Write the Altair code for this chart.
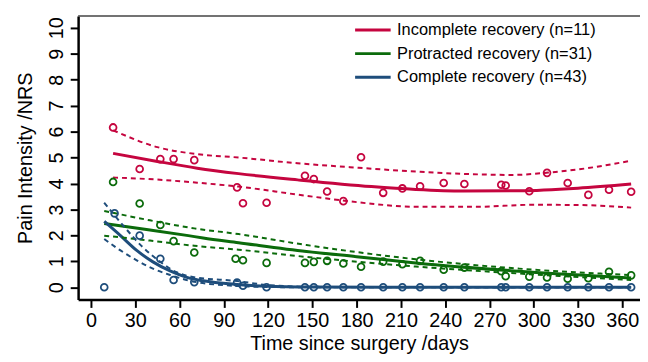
import altair as alt
import pandas as pd

names = ["Incomplete recovery (n=11)", "Protracted recovery (n=31)", "Complete recovery (n=43)"]
colors = ["#c5053f", "#0b6b0b", "#1e4d7b"]

# observed points
red_days = [15, 33, 47, 56, 70, 99, 103, 119, 145, 151, 160, 171, 183, 198, 211, 223, 239, 253, 278, 281, 297, 309, 323, 337, 351, 366]
red_vals = [6.16, 4.56, 4.94, 4.94, 4.9, 3.85, 3.24, 3.26, 4.3, 4.17, 3.69, 3.32, 5.01, 3.64, 3.81, 3.89, 4.02, 3.98, 3.95, 3.92, 3.7, 4.41, 4.02, 3.56, 3.76, 3.68]
green_days = [15, 33, 47, 56, 70, 98, 103, 119, 145, 151, 160, 171, 183, 198, 211, 223, 239, 253, 278, 281, 297, 309, 323, 337, 351, 366]
green_vals = [4.06, 3.23, 2.4, 1.78, 1.34, 1.1, 1.04, 0.94, 0.94, 0.98, 1.02, 0.92, 0.79, 0.99, 0.89, 1.02, 0.68, 0.76, 0.62, 0.43, 0.41, 0.38, 0.33, 0.35, 0.6, 0.46]
blue_days = [9, 16, 33, 47, 56, 70, 99, 103, 119, 145, 151, 160, 171, 183, 198, 211, 223, 239, 253, 278, 281, 297, 309, 323, 337, 351, 366]
blue_vals = [0, 2.85, 1.99, 1.1, 0.28, 0.2, 0.18, 0.06, 0, 0, 0, 0, 0, 0, 0, 0, 0, 0, 0, 0, 0, 0, 0, 0, 0, 0, 0]

# fitted curves and confidence bands
red_fit_days = [15, 45, 72, 100, 140, 190, 220, 252, 290, 330, 366]
red_fit = [5.16, 4.85, 4.59, 4.38, 4.14, 3.88, 3.77, 3.71, 3.72, 3.82, 3.98]
red_hi_days = [15, 45, 72, 100, 140, 180, 220, 252, 285, 310, 340, 366]
red_hi = [6.05, 5.4, 5.13, 5.0, 4.78, 4.61, 4.46, 4.37, 4.33, 4.42, 4.62, 4.88]
red_lo_days = [15, 45, 72, 100, 140, 170, 190, 220, 260, 300, 330, 366]
red_lo = [4.23, 4.15, 4.03, 3.88, 3.57, 3.35, 3.22, 3.1, 3.1, 3.18, 3.17, 3.07]

green_fit_days = [9, 40, 66, 76, 100, 146, 180, 220, 290, 366]
green_fit = [2.46, 2.21, 1.99, 1.9, 1.72, 1.38, 1.18, 0.94, 0.62, 0.36]
green_hi_days = [9, 40, 70, 100, 146, 220, 290, 366]
green_hi = [2.94, 2.58, 2.27, 2.05, 1.63, 1.08, 0.72, 0.47]
green_lo_days = [9, 40, 70, 100, 146, 220, 290, 366]
green_lo = [1.99, 1.8, 1.6, 1.45, 1.17, 0.8, 0.53, 0.28]

blue_fit_days = [9, 20, 31, 42, 54, 65, 76, 99, 119, 150, 200, 366]
blue_fit = [2.54, 1.99, 1.42, 0.98, 0.62, 0.38, 0.25, 0.11, 0.04, 0.01, 0.0, 0.0]
blue_hi_days = [9, 22, 35, 47, 58, 69, 99, 121, 150, 200, 366]
blue_hi = [3.26, 2.37, 1.55, 0.98, 0.58, 0.4, 0.24, 0.08, 0.02, 0.01, 0.0]
blue_lo_days = [9, 20, 31, 42, 54, 67, 99, 121, 150, 366]
blue_lo = [1.86, 1.42, 1.04, 0.72, 0.47, 0.25, 0.05, 0.01, 0.0, 0.0]

x_ticks = list(range(0, 361, 30))
y_ticks = list(range(0, 11))

pts = []
for g, d, v in [(names[0], red_days, red_vals), (names[1], green_days, green_vals), (names[2], blue_days, blue_vals)]:
    for a, b in zip(d, v):
        pts.append({"day": a, "val": b, "group": g})
pts = pd.DataFrame(pts)

fits, bands = [], []
for g, d, v in [(names[0], red_fit_days, red_fit), (names[1], green_fit_days, green_fit), (names[2], blue_fit_days, blue_fit)]:
    for a, b in zip(d, v):
        fits.append({"day": a, "val": b, "group": g})
for g, k, d, v in [(names[0], "hi", red_hi_days, red_hi), (names[0], "lo", red_lo_days, red_lo),
                   (names[1], "hi", green_hi_days, green_hi), (names[1], "lo", green_lo_days, green_lo),
                   (names[2], "hi", blue_hi_days, blue_hi), (names[2], "lo", blue_lo_days, blue_lo)]:
    for a, b in zip(d, v):
        bands.append({"day": a, "val": b, "group": g, "kind": g + k})
fits = pd.DataFrame(fits)
bands = pd.DataFrame(bands)

FONT = "Liberation Sans"
xscale = alt.Scale(domain=[-8.7, 372], nice=False, zero=False)
yscale = alt.Scale(domain=[-0.47, 10.45], nice=False, zero=False)
cscale = alt.Scale(domain=names, range=colors)

xenc = alt.X("day:Q", scale=xscale,
             axis=alt.Axis(values=x_ticks, title="Time since surgery /days", grid=False))
yenc = alt.Y("val:Q", scale=yscale,
             axis=alt.Axis(values=y_ticks, title="Pain Intensity /NRS", grid=False,
                           labelAngle=270, labelAlign="center", labelBaseline="alphabetic",
                           labelPadding=8, titlePadding=11))

legend = alt.Legend(title=None, orient="none", legendX=279, legendY=6,
                    symbolType="stroke", symbolSize=1296, symbolStrokeWidth=3,
                    labelFontSize=16.6, labelFont=FONT, labelOffset=5, labelLimit=400,
                    clipHeight=16, rowPadding=7, labelColor="black")
cenc = alt.Color("group:N", scale=cscale, sort=names, legend=legend)

fit_layer = alt.Chart(fits).mark_line(strokeWidth=3, interpolate="monotone").encode(
    x=xenc, y=yenc, color=cenc,
)
band_layer = alt.Chart(bands).mark_line(strokeWidth=2, strokeDash=[5, 4], interpolate="monotone").encode(
    x=xenc, y=yenc, color=cenc, detail="kind:N",
)
pt_layer = alt.Chart(pts).mark_point(filled=False, size=48, strokeWidth=1.8, opacity=1).encode(
    x=xenc, y=yenc, color=cenc,
)
top_line = alt.Chart(pd.DataFrame({"a": [0]})).mark_rule(color="#444444", strokeWidth=1.5).encode(
    y=alt.value(0)
)

chart = alt.layer(fit_layer, band_layer, pt_layer, top_line).properties(
    width=569, height=287,
    autosize=alt.AutoSizeParams(type="none"),
    padding={"left": 71, "top": 6, "right": 0, "bottom": 53},
).configure_view(stroke=None).configure_axis(
    domainColor="black", domainWidth=2.5, tickColor="black", tickWidth=2, tickSize=8,
    labelFont=FONT, labelFontSize=20, labelColor="black",
    titleFont=FONT, titleFontSize=20, titleFontWeight="normal", titleColor="black",
).configure_axisX(labelPadding=3, titlePadding=4)

chart.save("out.html", embed_options={"renderer": "svg", "actions": False})
